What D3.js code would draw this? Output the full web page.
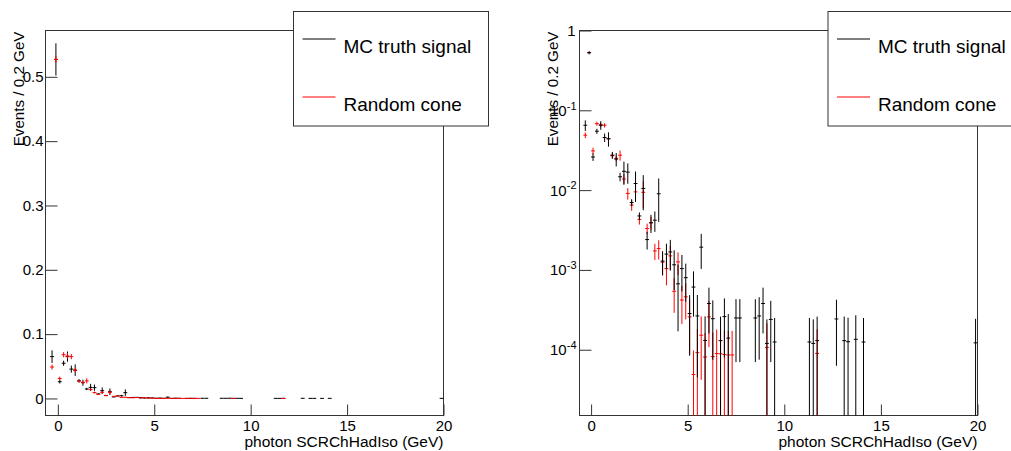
<!DOCTYPE html>
<html>
<head>
<meta charset="utf-8">
<script src="https://cdn.jsdelivr.net/npm/d3@7"></script>
<style>
  body { margin: 0; background: #fff; }
  svg { font-family: "Liberation Sans", Arial, sans-serif; }
</style>
</head>
<body>
<svg width="1011" height="451"></svg>
<script>
// MC truth signal (black), bin centres, contents and errors
var mcX = [-0.3, -0.1, 0.1, 0.3, 0.5, 0.7, 0.9, 1.1, 1.3, 1.5, 1.7, 1.9, 2.1, 2.3, 2.5, 2.7, 2.9, 3.1, 3.3, 3.5,
  3.7, 3.9, 4.1, 4.3, 4.5, 4.7, 4.9, 5.1, 5.3, 5.5, 5.7, 5.9, 6.1, 6.3, 6.7, 6.9, 7.1, 7.5, 7.7,
  8.5, 8.7, 8.9, 9.1, 9.3, 9.5, 11.3, 11.5, 11.7, 12.7, 13.1, 13.3, 13.7, 14.1, 19.9];
var mcY = [0.065, 0.527, 0.026, 0.0547, 0.065, 0.0456, 0.044, 0.0274, 0.0245, 0.0147, 0.0172, 0.0168, 0.0070, 0.0121,
  0.00475, 0.0105, 0.0024, 0.0039, 0.0042, 0.0090, 0.00129, 0.00158, 0.00168, 0.00116, 0.00067, 0.00104, 0.00080,
  0.000284, 0.00061, 0.000265, 0.00193, 0.000131, 0.00038, 0.000245, 0.00013, 0.00026, 0.00014, 0.00025, 0.00025,
  0.00025, 0.000265, 0.00038, 0.00012, 0.00024, 0.000125, 0.000125, 0.00012, 0.00013, 0.000243, 0.00013, 0.000126,
  0.000135, 0.000125, 0.000122];
var mcErr = [0.0098, 0.025, 0.0028, 0.004, 0.008, 0.0055, 0.009, 0.0027, 0.0047, 0.0018, 0.0055, 0.0048, 0.0007, 0.005,
  0.0005, 0.0049, 0.0006, 0.001, 0.0012, 0.005, 0.00043, 0.00055, 0.0007, 0.0006, 0.0005, 0.0005, 0.0004,
  0.0002, 0.00035, 0.00022, 0.0009, 0.000131, 0.00022, 0.00017, 0.00013, 0.00018, 0.00014, 0.00018, 0.00018,
  0.00018, 0.00019, 0.00022, 0.00012, 0.00017, 0.000125, 0.000125, 0.00012, 0.00013, 0.00018, 0.00013, 0.000126,
  0.000135, 0.000125, 0.000122];

// Random cone (red)
var rcX = [-0.3, -0.1, 0.1, 0.3, 0.5, 0.7, 0.9, 1.1, 1.3, 1.5, 1.7, 1.9, 2.1, 2.3, 2.5, 2.7, 2.9, 3.1, 3.3, 3.5,
  3.7, 3.9, 4.1, 4.3, 4.5, 4.7, 4.9, 5.1, 5.3, 5.5, 5.7, 5.9, 6.1, 6.3, 6.5, 6.7, 6.9, 7.1, 7.3, 9.1, 11.7];
var rcY = [0.0488, 0.527, 0.031, 0.068, 0.066, 0.065, 0.044, 0.027, 0.025, 0.0274, 0.0138, 0.0091, 0.0065, 0.0095,
  0.0043, 0.0094, 0.0033, 0.0039, 0.00173, 0.00185, 0.00125, 0.00104, 0.0015, 0.00054, 0.00126, 0.00042, 0.00046,
  0.000258, 0.000049, 0.000092, 0.000152, 0.000081, 0.000258, 0.000082, 0.0000895, 0.000089, 0.000087, 0.000086,
  0.000086, 0.000107, 0.00009];
var rcErr = [0.004, 0.005, 0.003, 0.004, 0.004, 0.004, 0.003, 0.002, 0.002, 0.004, 0.002, 0.0015, 0.001, 0.0018,
  0.0006, 0.0035, 0.0005, 0.0007, 0.0004, 0.0005, 0.0004, 0.0004, 0.0005, 0.00025, 0.0004, 0.00021, 0.00022,
  0.00017, 0.000049, 0.00009, 0.00011, 0.000081, 0.00015, 0.000082, 0.0000895, 0.000089, 0.000087, 0.000086,
  0.000086, 0.000107, 0.00009];

var binWidth = 0.2;
var xMajor = [0, 5, 10, 15, 20];
var xMinor = d3.range(0, 21, 1);
var linMajor = [0, 0.1, 0.2, 0.3, 0.4, 0.5];
var linMinor = d3.range(-0.02, 0.57, 0.02);
var logMajor = [1e-4, 1e-3, 1e-2, 1e-1, 1];
var logLabels = ["-4", "-3", "-2", "-1", ""];
var legendLabels = ["MC truth signal", "Random cone"];
var xTitle = "photon SCRChHadIso (GeV)";
var yTitle = "Events / 0.2 GeV";

var svg = d3.select("svg");
var frameColor = "#333";
var red = "#ff0000";

function series(xs, ys, es) {
  return xs.map(function(x, i) { return { x: x, y: ys[i], e: es[i] }; });
}
var mc = series(mcX, mcY, mcErr);
var rc = series(rcX, rcY, rcErr);

function drawPanel(p) {
  var g = svg.append("g");
  var x = p.x, y = p.y;
  var left = x.range()[0], right = x.range()[1];
  var bottom = y.range()[0], top = y.range()[1];
  var ymin = y.domain()[0], ymax = y.domain()[1];

  var clipId = "clip" + p.id;
  g.append("clipPath").attr("id", clipId)
    .append("rect").attr("x", left).attr("y", top)
    .attr("width", right - left).attr("height", bottom - top);

  g.append("rect")
    .attr("x", left).attr("y", top)
    .attr("width", right - left).attr("height", bottom - top)
    .attr("fill", "none").attr("stroke", frameColor);

  // x ticks (drawn inside the frame)
  var xAxis = g.append("g").attr("transform", "translate(0," + bottom + ")");
  xAxis.call(d3.axisBottom(x).tickValues(xMinor.filter(function(v) { return v % 5 !== 0; }))
    .tickSize(-6).tickFormat(""));
  xAxis.call(d3.axisBottom(x).tickValues(xMajor).tickSize(-11).tickPadding(5).tickFormat(d3.format("d")));
  xAxis.selectAll(".domain").remove();
  xAxis.selectAll("line").attr("stroke", frameColor);
  xAxis.selectAll("text").attr("font-size", 15).attr("fill", "#000")
    .attr("font-family", "Liberation Sans, Arial, sans-serif");

  var yAxis = g.append("g").attr("transform", "translate(" + left + ",0)");
  if (!p.log) {
    yAxis.call(d3.axisLeft(y).tickValues(linMinor).tickSize(-6).tickFormat(""));
    yAxis.call(d3.axisLeft(y).tickValues(linMajor).tickSize(-12).tickPadding(2).tickFormat(d3.format("~g")));
    yAxis.selectAll("text").attr("font-size", 15).attr("fill", "#000")
      .attr("font-family", "Liberation Sans, Arial, sans-serif");
  } else {
    var minors = [];
    [1e-5, 1e-4, 1e-3, 1e-2, 1e-1].forEach(function(d) {
      d3.range(2, 10).forEach(function(k) {
        var v = d * k;
        if (v >= ymin && v <= ymax) minors.push(v);
      });
    });
    yAxis.call(d3.axisLeft(y).tickValues(minors).tickSize(-6).tickFormat(""));
    yAxis.call(d3.axisLeft(y).tickValues(logMajor).tickSize(-12).tickFormat(""));
    logMajor.forEach(function(v, i) {
      var t = g.append("text")
        .attr("x", left - 3).attr("y", y(v)).attr("dy", "0.36em")
        .attr("text-anchor", "end").attr("font-size", 15);
      if (logLabels[i] === "") {
        t.attr("x", left - 4).text("1");
      } else {
        t.append("tspan").text("10");
        t.append("tspan").attr("font-size", 11).attr("dy", "-0.55em").text(logLabels[i]);
      }
    });
  }
  yAxis.selectAll(".domain").remove();
  yAxis.selectAll("line").attr("stroke", frameColor);

  // titles
  g.append("text")
    .attr("x", right).attr("y", 447)
    .attr("text-anchor", "end").attr("font-size", 15.5)
    .text(xTitle);
  g.append("text")
    .attr("transform", "translate(" + p.titleX + "," + (top + 1) + ") rotate(-90)")
    .attr("text-anchor", "end").attr("font-size", 15.2)
    .text(yTitle);

  // data with error bars
  var plot = g.append("g").attr("clip-path", "url(#" + clipId + ")");
  function clampY(v) {
    if (v <= ymin) return bottom + 2;
    if (v >= ymax) return top;
    return y(v);
  }
  var order = p.log ? [[rc, red], [mc, "#000"]] : [[mc, "#000"], [rc, red]];
  order.forEach(function(s) {
    var pts = s[0].filter(function(d) { return d.y > ymin; });
    var sg = plot.append("g").attr("stroke", s[1]).attr("stroke-width", 1);
    sg.selectAll("line.v").data(pts).enter().append("line")
      .attr("x1", function(d) { return x(d.x); })
      .attr("x2", function(d) { return x(d.x); })
      .attr("y1", function(d) { return clampY(d.y + d.e); })
      .attr("y2", function(d) { return clampY(d.y - d.e); });
    sg.selectAll("line.h").data(pts).enter().append("line")
      .attr("x1", function(d) { return x(d.x - binWidth / 2); })
      .attr("x2", function(d) { return x(d.x + binWidth / 2); })
      .attr("y1", function(d) { return y(d.y); })
      .attr("y2", function(d) { return y(d.y); });
  });

  // legend
  var lg = g.append("g");
  lg.append("rect")
    .attr("x", p.legendX).attr("y", 11.5)
    .attr("width", 195).attr("height", 114.5)
    .attr("fill", "#fff").attr("stroke", frameColor);
  [["#000", 39, 53], [red, 97, 110.5]].forEach(function(e, i) {
    lg.append("line")
      .attr("x1", p.legendX + 9).attr("x2", p.legendX + 42)
      .attr("y1", e[1]).attr("y2", e[1])
      .style("stroke", e[0]).attr("stroke-width", 1);
    lg.append("text")
      .attr("x", p.legendX + 50).attr("y", e[2])
      .attr("font-size", 19)
      .text(legendLabels[i]);
  });
}

drawPanel({
  id: "L", log: false,
  x: d3.scaleLinear().domain([-0.64, 20]).range([45.5, 443.5]),
  y: d3.scaleLinear().domain([-0.0265, 0.572]).range([415.5, 30.5]),
  legendX: 293.5, titleX: 24
});

drawPanel({
  id: "R", log: true,
  x: d3.scaleLinear().domain([-0.6, 20]).range([579.5, 977.5]),
  y: d3.scaleLog().domain([1.5e-5, 1]).range([415.5, 30.5]),
  legendX: 828, titleX: 558
});
</script>
</body>
</html>
